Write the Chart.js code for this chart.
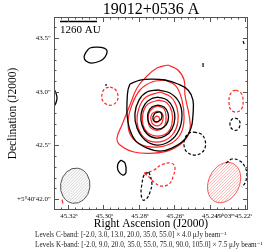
<!DOCTYPE html>
<html>
<head>
<meta charset="utf-8">
<script src="https://cdn.jsdelivr.net/npm/chart.js@4"></script>
<style>
  html, body { margin: 0; padding: 0; background: #fff; }
  canvas { display: block; }
</style>
</head>
<body>
<canvas id="myChart" width="264" height="252"></canvas>
<script>
// contour vertices as [RA seconds (19h03m..), Dec arcsec (+5d40'..)]
const cBand3 = [[45.2850,43.072],[45.2793,43.109],[45.2726,43.118],[45.2652,43.109],[45.2579,43.072],[45.2522,43.016],[45.2494,42.922],[45.2494,42.783],[45.2505,42.661],[45.2544,42.550],[45.2613,42.475],[45.2680,42.447],[45.2753,42.475],[45.2816,42.540],[45.2850,42.643],[45.2866,42.783],[45.2866,42.922],[45.2861,43.016],[45.2850,43.072]]
const cBand13 = [[45.2692,43.016],[45.2624,42.988],[45.2573,42.904],[45.2556,42.783],[45.2573,42.643],[45.2624,42.540],[45.2697,42.503],[45.2765,42.550],[45.2810,42.661],[45.2822,42.792],[45.2799,42.922],[45.2754,42.997],[45.2692,43.016]]
const cBand20 = [[45.2692,42.950],[45.2640,42.922],[45.2607,42.848],[45.2596,42.755],[45.2613,42.652],[45.2652,42.587],[45.2703,42.568],[45.2753,42.606],[45.2782,42.690],[45.2787,42.792],[45.2765,42.885],[45.2731,42.932],[45.2692,42.950]]
const cBand35 = [[45.2692,42.876],[45.2657,42.857],[45.2635,42.801],[45.2635,42.727],[45.2657,42.671],[45.2697,42.652],[45.2731,42.680],[45.2748,42.736],[45.2748,42.801],[45.2726,42.857],[45.2692,42.876]]
const cBand55 = [[45.2709,42.801],[45.2680,42.811],[45.2669,42.764],[45.2686,42.727],[45.2714,42.727],[45.2720,42.764],[45.2709,42.801]]
const cBandBlobNW = [[45.3098,43.370],[45.3076,43.407],[45.3036,43.416],[45.2996,43.407],[45.2979,43.379],[45.2991,43.323],[45.3019,43.286],[45.3065,43.267],[45.3098,43.286],[45.3109,43.323],[45.3098,43.370]]
const cBandEdgeArc = [[45.3279,43.025],[45.3268,42.988],[45.3262,42.941],[45.3268,42.894],[45.3279,42.866]]
const cBandKnotS = [[45.2901,42.363],[45.2878,42.335],[45.2872,42.251],[45.2889,42.223],[45.2918,42.270],[45.2918,42.326],[45.2901,42.363]]

const cBandNegE = [[45.2488,42.624],[45.2448,42.606],[45.2426,42.550],[45.2426,42.475],[45.2448,42.428],[45.2488,42.410],[45.2528,42.438],[45.2544,42.494],[45.2539,42.568],[45.2516,42.615],[45.2488,42.624]]
const cBandNegEast = [[45.2256,42.755],[45.2234,42.736],[45.2228,42.690],[45.2245,42.643],[45.2273,42.652],[45.2285,42.699],[45.2273,42.745],[45.2256,42.755]]
const cBandNegCorner = [[45.2307,42.335],[45.2273,42.373],[45.2228,42.354],[45.2200,42.298],[45.2189,42.223],[45.2200,42.149],[45.2217,42.112]]
const cBandNegS = [[45.2742,42.251],[45.2726,42.149],[45.2737,42.065],[45.2753,42.009],[45.2776,41.990],[45.2787,42.056],[45.2782,42.140],[45.2770,42.223],[45.2742,42.251]]
const cBandNegDots = [[[45.2437,43.267],[45.2437,43.230]], [[45.2211,43.472],[45.2205,43.444]], [[45.2985,43.071],[45.2985,43.053]]]

const kBand9 = [[45.2635,43.249],[45.2579,43.202],[45.2544,43.109],[45.2539,42.969],[45.2516,42.783],[45.2511,42.643],[45.2550,42.531],[45.2624,42.456],[45.2714,42.428],[45.2827,42.438],[45.2906,42.503],[45.2923,42.568],[45.2895,42.690],[45.2850,42.876],[45.2810,43.034],[45.2759,43.137],[45.2697,43.221],[45.2635,43.249]]
const kBand20 = [[45.2652,43.109],[45.2590,43.053],[45.2556,42.922],[45.2544,42.755],[45.2561,42.615],[45.2613,42.522],[45.2697,42.484],[45.2782,42.503],[45.2844,42.587],[45.2861,42.717],[45.2839,42.876],[45.2793,43.016],[45.2726,43.090],[45.2652,43.109]]
const kBand35 = [[45.2680,42.997],[45.2618,42.950],[45.2584,42.848],[45.2579,42.717],[45.2607,42.606],[45.2663,42.540],[45.2737,42.540],[45.2787,42.606],[45.2810,42.717],[45.2799,42.848],[45.2759,42.950],[45.2680,42.997]]
const kBand55 = [[45.2686,42.922],[45.2640,42.894],[45.2613,42.811],[45.2613,42.699],[45.2640,42.615],[45.2692,42.587],[45.2748,42.615],[45.2776,42.690],[45.2776,42.801],[45.2748,42.885],[45.2686,42.922]]
const kBand75 = [[45.2692,42.867],[45.2657,42.839],[45.2646,42.773],[45.2652,42.690],[45.2686,42.643],[45.2731,42.661],[45.2748,42.727],[45.2742,42.801],[45.2720,42.848],[45.2692,42.867]]
const kBand90 = [[45.2697,42.820],[45.2669,42.801],[45.2663,42.745],[45.2680,42.690],[45.2714,42.690],[45.2731,42.736],[45.2726,42.792],[45.2697,42.820]]
const kBand105 = [[45.2703,42.773],[45.2686,42.764],[45.2686,42.727],[45.2709,42.717],[45.2714,42.745],[45.2703,42.773]]

const kBandNegW = [[45.2963,43.044],[45.2935,43.025],[45.2918,42.969],[45.2923,42.913],[45.2952,42.876],[45.2985,42.885],[45.3008,42.932],[45.3002,43.006],[45.2985,43.034],[45.2963,43.044]]
const kBandNegE = [[45.2251,43.016],[45.2222,42.988],[45.2211,42.922],[45.2217,42.848],[45.2245,42.811],[45.2279,42.829],[45.2290,42.894],[45.2285,42.969],[45.2268,43.006],[45.2251,43.016]]
const kBandNegS = [[45.2770,42.242],[45.2714,42.270],[45.2675,42.317],[45.2618,42.335],[45.2596,42.298],[45.2607,42.205],[45.2629,42.140],[45.2675,42.121],[45.2714,42.158],[45.2742,42.205],[45.2770,42.242]]
const kBandNegDot = [[45.3234,41.995],[45.3228,41.958]]

// beams: centre, FWHM axes in arcsec, tilt in degrees
const beamC = { ra: 45.3159, dec: 42.124, bmaj: 0.33, bmin: 0.274, tilt: 8 }
const beamK = { ra: 45.2318, dec: 42.1535, bmaj: 0.392, bmin: 0.288, tilt: 25 }

const scaleBar = [[45.3245,43.654],[45.3036,43.654]]
const scaleBarLabel = '1260 AU'

const raTicks = [45.32, 45.30, 45.28, 45.26, 45.24, 45.22]
const raTickLabels = ['45.32ˢ', '45.30ˢ', '45.28ˢ', '45.26ˢ', '45.24ˢ', '19ʰ03ᵐ45.22ˢ']
const decTicks = [43.5, 43.0, 42.5, 42.0]
const decTickLabels = ['43.5″', '43.0″', '42.5″', '+5°40′42.0″']

const titleText = '19012+0536 A'
const levelsC = 'Levels C-band: [-2.0, 3.0, 13.0, 20.0, 35.0, 55.0] × 4.0 μJy beam⁻¹'
const levelsK = 'Levels K-band: [-2.0, 9.0, 20.0, 35.0, 55.0, 75.0, 90.0, 105.0] × 7.5 μJy beam⁻¹'

const serif = '"Liberation Serif", "DejaVu Serif", serif'
const RED = 'rgb(255, 38, 38)'

const contour = (pts, color, dashed, width = 1.2) => ({
    data: pts.map(([x, y]) => ({ x, y })),
    showLine: true,
    borderColor: color,
    borderWidth: width,
    borderDash: dashed ? [3, 2] : [],
    tension: 0.4,
    pointRadius: 0,
    fill: false
})

const beamPlugin = {
    id: 'beams',
    beforeDatasetsDraw(chart) {
        const { ctx, chartArea: a, scales: { x, y } } = chart
        ctx.save()
        ctx.beginPath()
        ctx.rect(a.left, a.top, a.right - a.left, a.bottom - a.top)
        ctx.clip()
        const draw = (b, hatch, edge) => {
            const cx = x.getPixelForValue(b.ra)
            const cy = y.getPixelForValue(b.dec)
            const perArcsec = Math.abs(y.getPixelForValue(b.dec + 1) - cy)
            const rMaj = b.bmaj / 2 * perArcsec
            const rMin = b.bmin / 2 * perArcsec
            const rot = b.tilt * Math.PI / 180
            ctx.save()
            ctx.beginPath()
            ctx.ellipse(cx, cy, rMin, rMaj, rot, 0, Math.PI * 2)
            ctx.clip()
            ctx.strokeStyle = hatch
            ctx.lineWidth = 0.8
            ctx.beginPath()
            for (let d = -2.5 * rMaj; d <= 2.5 * rMaj; d += 3) {
                ctx.moveTo(cx + d - rMaj, cy + rMaj)
                ctx.lineTo(cx + d + rMaj, cy - rMaj)
            }
            ctx.stroke()
            ctx.restore()
            ctx.beginPath()
            ctx.ellipse(cx, cy, rMin, rMaj, rot, 0, Math.PI * 2)
            ctx.strokeStyle = edge
            ctx.lineWidth = 1
            ctx.stroke()
        }
        draw(beamC, '#c4c4c4', '#555')
        draw(beamK, '#f7a3a3', '#f35a5a')
        ctx.restore()
    }
}

const framePlugin = {
    id: 'frame',
    afterDraw(chart) {
        const { ctx, chartArea: a, scales: { x, y } } = chart
        ctx.save()
        ctx.strokeStyle = '#555'
        ctx.lineWidth = 1
        ctx.strokeRect(a.left + 0.5, a.top + 0.5, a.right - a.left - 1, a.bottom - a.top - 1)

        const tickX = (v, len) => {
            const px = Math.round(x.getPixelForValue(v)) + 0.5
            if (px < a.left + 1 || px > a.right - 1) return
            ctx.moveTo(px, a.bottom); ctx.lineTo(px, a.bottom - len)
            ctx.moveTo(px, a.top); ctx.lineTo(px, a.top + len)
        }
        const tickY = (v, len) => {
            const py = Math.round(y.getPixelForValue(v)) + 0.5
            if (py < a.top + 1 || py > a.bottom - 1) return
            ctx.moveTo(a.left, py); ctx.lineTo(a.left + len, py)
            ctx.moveTo(a.right, py); ctx.lineTo(a.right - len, py)
        }
        ctx.beginPath()
        raTicks.forEach(v => tickX(v, 5))
        for (let i = 11305; i <= 11332; i++) if (i % 5) tickX(i * 0.004, 2.5)
        decTicks.forEach(v => tickY(v, 5))
        for (let i = 419; i <= 437; i++) if (i % 5) tickY(i / 10, 2.5)
        ctx.stroke()

        ctx.fillStyle = '#111'
        ctx.font = `7px ${serif}`
        ctx.textBaseline = 'alphabetic'
        raTicks.forEach((v, i) => {
            const px = x.getPixelForValue(v)
            if (i === raTicks.length - 1) {
                ctx.textAlign = 'right'
                ctx.fillText(raTickLabels[i], px + 7, a.bottom + 8)
            } else {
                ctx.textAlign = 'center'
                ctx.fillText(raTickLabels[i], px + 1, a.bottom + 8)
            }
        })
        ctx.textAlign = 'right'
        ctx.textBaseline = 'middle'
        decTicks.forEach((v, i) => ctx.fillText(decTickLabels[i], a.left - 3, y.getPixelForValue(v)))

        ctx.fillStyle = '#000'
        ctx.textBaseline = 'alphabetic'
        ctx.textAlign = 'center'
        ctx.font = `16px ${serif}`
        ctx.fillText(titleText, (a.left + a.right) / 2, 14)
        ctx.font = `11.5px ${serif}`
        ctx.fillText('Right Ascension (J2000)', (a.left + a.right) / 2, 227)
        ctx.save()
        ctx.translate(16, (a.top + a.bottom) / 2)
        ctx.rotate(-Math.PI / 2)
        ctx.fillText('Declination (J2000)', 0, 0)
        ctx.restore()

        ctx.textAlign = 'left'
        ctx.font = `11px ${serif}`
        ctx.fillText(scaleBarLabel, x.getPixelForValue(scaleBar[0][0]), a.top + 16)

        ctx.font = `7.2px ${serif}`
        ctx.fillStyle = '#222'
        ctx.fillText(levelsC, 35, 237)
        ctx.fillText(levelsK, 35, 247)
        ctx.restore()
    }
}

document.addEventListener('DOMContentLoaded', () => {
    const ctx = document.getElementById('myChart')

    const datasets = [
        contour(cBand3, '#000', false, 1.3),
        contour(cBand13, '#000', false, 1.3),
        contour(cBand20, '#000', false, 1.3),
        contour(cBand35, '#000', false, 1.3),
        contour(cBand55, '#000', false, 1.3),
        contour(cBandBlobNW, '#000', false, 1.3),
        contour(cBandEdgeArc, '#000', false, 1.3),
        contour(cBandKnotS, '#000', false, 1.3),
        contour(cBandNegE, '#000', true),
        contour(cBandNegEast, '#000', true),
        contour(cBandNegCorner, '#000', true),
        contour(cBandNegS, '#000', true),
        ...cBandNegDots.map(d => contour(d, '#000', false)),
        contour(kBand9, RED, false),
        contour(kBand20, RED, false),
        contour(kBand35, RED, false),
        contour(kBand55, RED, false),
        contour(kBand75, RED, false),
        contour(kBand90, RED, false),
        contour(kBand105, RED, false),
        contour(kBandNegW, RED, true),
        contour(kBandNegE, RED, true),
        contour(kBandNegS, RED, true),
        contour(kBandNegDot, RED, false),
        { ...contour(scaleBar, '#000', false, 1.5), tension: 0 }
    ]

    new Chart(ctx, {
        type: 'scatter',
        data: { datasets },
        options: {
            responsive: false,
            animation: false,
            devicePixelRatio: 1,
            layout: { padding: { left: 54, right: 16, top: 17, bottom: 42 } },
            plugins: { legend: { display: false }, tooltip: { enabled: false } },
            scales: {
                x: { type: 'linear', min: 45.2183, max: 45.3279, reverse: true, display: false },
                y: { type: 'linear', min: 41.898, max: 43.696, display: false }
            }
        },
        plugins: [beamPlugin, framePlugin]
    })
})
</script>
</body>
</html>
